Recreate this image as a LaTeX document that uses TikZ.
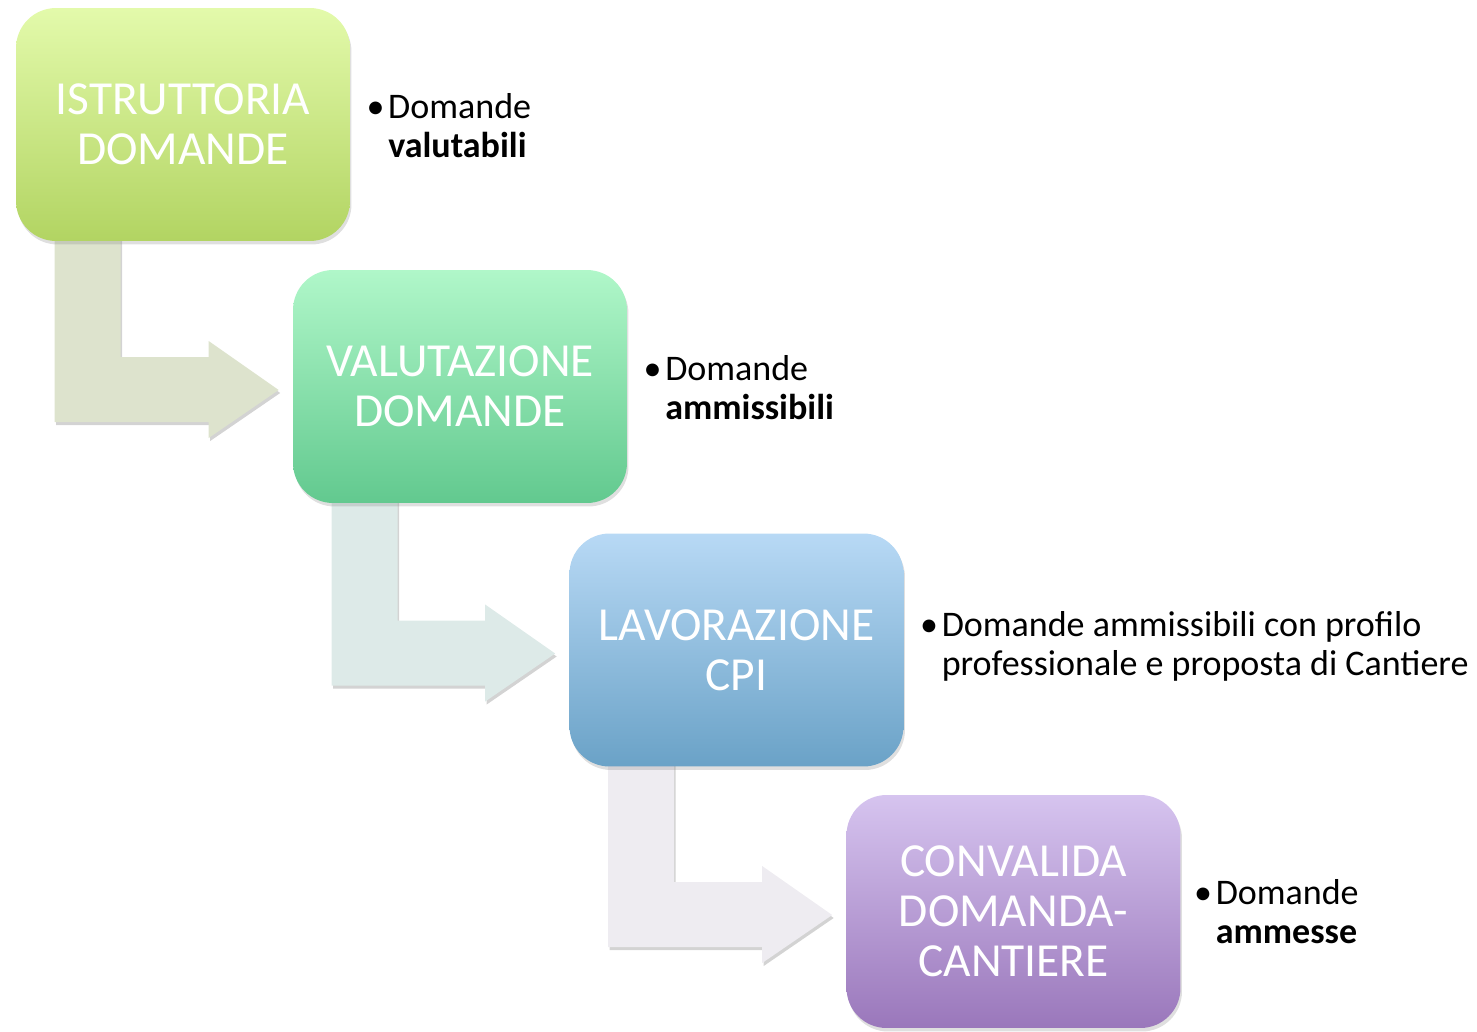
\documentclass[tikz,border=0pt]{standalone}
\usepackage{fontspec}
\setmainfont{Carlito}
\usepackage{tikz}
\usetikzlibrary{calc,positioning,shadows,backgrounds}
\definecolor{limeTop}{HTML}{E3FAAB}
\definecolor{limeBot}{HTML}{B2D462}
\definecolor{mintTop}{HTML}{B0F7C9}
\definecolor{mintBot}{HTML}{62C98F}
\definecolor{skyTop}{HTML}{B8D9F5}
\definecolor{skyBot}{HTML}{6AA2C7}
\definecolor{lilacTop}{HTML}{D6C4EF}
\definecolor{lilacBot}{HTML}{9A77BB}
\definecolor{flowA}{HTML}{DDE3CD}
\definecolor{flowB}{HTML}{DDEAE8}
\definecolor{flowC}{HTML}{EEECF1}
\tikzset{
    stage/.style ={rounded corners=0.8cm, minimum width=6.68cm, minimum height=4.66cm,
                   text=white, align=center, font=\fontsize{27}{28.5}\selectfont,
                   drop shadow={opacity=0.25, shadow xshift=0.03cm, shadow yshift=-0.07cm}},
    note/.style  ={anchor=west, align=left, inner sep=0pt, font=\fontsize{20.5}{22.2}\selectfont},
    flow/.style  ={drop shadow={opacity=0.35, shadow xshift=0.03cm, shadow yshift=-0.06cm}}
}
% bullet and hanging indent
\newcommand{\bul}{\makebox[0.6em][l]{\textbullet}}
\newcommand{\bulpad}{\hspace*{0.6em}}
% L-shaped arrow from one stage to the next
\newcommand{\stepflow}[3]{
    \path[flow, fill=#3] ($(#1.south west)+(39,-20)$) |- ($(#2.west)+(-84,35.5)$)
        -- ++(0,16) -- ($(#2.west)+(-14,3.5)$) -- ($(#2.west)+(-84,-45.5)$)
        -- ++(0,16) -| ($(#1.south west)+(105,-20)$) -- cycle;
}
\begin{document}
\begin{tikzpicture}[x=0.02cm, y=-0.02cm]
            \useasboundingbox (0,0) rectangle (1477,1031);
            % the four stages
            \node[stage, top color=limeTop, bottom color=limeBot] (istruttoria) at (183,124.5) {ISTRUTTORIA\\DOMANDE};
            \node[stage, top color=mintTop, bottom color=mintBot] (valutazione) at (460,386.5) {VALUTAZIONE\\DOMANDE};
            \node[stage, top color=skyTop, bottom color=skyBot] (lavorazione) at (736.5,650) {LAVORAZIONE\\CPI};
            \node[stage, top color=lilacTop, bottom color=lilacBot] (convalida) at (1013.5,911.5) {CONVALIDA\\DOMANDA-\\CANTIERE};
            % Outcome of each stage
            \node[note] (valutabili) at ($(istruttoria.east)+(16,1)$) {\bul Domande\\\bulpad\textbf{valutabili}};
            \node[note] (ammissibili) at ($(valutazione.east)+(16,1)$) {\bul Domande\\\bulpad\textbf{ammissibili}};
            \node[note] (profilo) at ($(lavorazione.east)+(16,-4)$) {\bul Domande ammissibili con profilo\\\bulpad professionale e proposta di Cantiere};
            \node[note] (ammesse) at ($(convalida.east)+(13,0)$) {\bul Domande\\\bulpad\textbf{ammesse}};
            % Draw the flow arrows behind the stages
            \begin{scope}[on background layer]
                \stepflow{istruttoria}{valutazione}{flowA}
                \stepflow{valutazione}{lavorazione}{flowB}
                \stepflow{lavorazione}{convalida}{flowC}
            \end{scope}
\end{tikzpicture}
\end{document}
